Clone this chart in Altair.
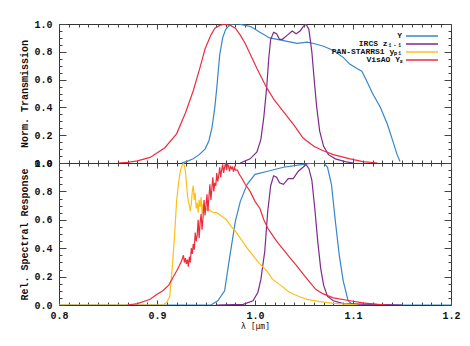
import altair as alt
import pandas as pd

# ---------------- data ----------------
names = ["Y", "IRCS", "PS1", "VisAO"]
labels = ["Y", "IRCS z\u2081.\u2081", "PAN-STARRS1 y\u209a\u2081", "VisAO Y\u209b"]
colors = ["#3587c8", "#7d2a8c", "#fdc016", "#ee2c3c"]

# top panel: normalized transmission
top_Y_lam = [0.925, 0.930, 0.937, 0.943, 0.949, 0.953, 0.956, 0.959, 0.961, 0.964, 0.967, 0.970,
             0.974, 0.978, 0.983, 0.990, 0.996, 1.005, 1.015, 1.029, 1.043, 1.053, 1.060, 1.070,
             1.080, 1.090, 1.097, 1.104, 1.109, 1.114, 1.120, 1.128, 1.135, 1.141, 1.145, 1.148]
top_Y_val = [0.0, 0.01, 0.03, 0.06, 0.10, 0.16, 0.25, 0.40, 0.54, 0.78, 0.90, 0.96,
             0.99, 1.0, 1.0, 0.99, 0.98, 0.94, 0.90, 0.88, 0.86, 0.87, 0.86, 0.84,
             0.81, 0.76, 0.71, 0.68, 0.66, 0.59, 0.50, 0.40, 0.28, 0.15, 0.06, 0.01]

top_IRCS_lam = [0.985, 0.995, 1.002, 1.006, 1.009, 1.012, 1.014, 1.016, 1.019, 1.022, 1.025, 1.028,
                1.033, 1.038, 1.042, 1.046, 1.049, 1.052, 1.055, 1.058, 1.061, 1.063, 1.066, 1.070,
                1.075, 1.082, 1.092, 1.100]
top_IRCS_val = [0.0, 0.03, 0.08, 0.17, 0.33, 0.55, 0.75, 0.89, 0.94, 0.93, 0.89, 0.89,
                0.92, 0.95, 0.93, 0.95, 0.98, 1.0, 0.96, 0.80, 0.55, 0.40, 0.23, 0.12,
                0.06, 0.03, 0.01, 0.0]

top_VisAO_lam = [0.860, 0.870, 0.880, 0.893, 0.908, 0.920, 0.929, 0.937, 0.944, 0.949, 0.955, 0.959,
                 0.964, 0.969, 0.975, 0.980, 0.985, 0.990, 0.996, 1.002, 1.012, 1.020, 1.029, 1.040,
                 1.049, 1.060, 1.069, 1.080, 1.097, 1.110, 1.125]
top_VisAO_val = [0.0, 0.005, 0.015, 0.04, 0.11, 0.21, 0.36, 0.52, 0.69, 0.82, 0.92, 0.97,
                 0.99, 1.0, 0.99, 0.97, 0.92, 0.86, 0.77, 0.68, 0.54, 0.45, 0.37, 0.27,
                 0.18, 0.12, 0.09, 0.06, 0.03, 0.01, 0.0]

# bottom panel: relative spectral response
bot_Y_lam = [0.80, 0.955, 0.962, 0.969, 0.974, 0.977, 0.980, 0.985, 0.992, 1.000, 1.012, 1.029,
             1.049, 1.060, 1.070, 1.074, 1.078, 1.082, 1.086, 1.090, 1.095, 1.100, 1.20]
bot_Y_val = [0.0, 0.0, 0.03, 0.10, 0.33, 0.46, 0.59, 0.73, 0.85, 0.92, 0.94, 0.97,
             0.99, 1.0, 1.0, 0.97, 0.85, 0.59, 0.35, 0.17, 0.03, 0.0, 0.0]

bot_IRCS_lam = [0.960, 0.988, 0.998, 1.003, 1.006, 1.010, 1.013, 1.016, 1.019, 1.022, 1.025, 1.029,
                1.034, 1.039, 1.044, 1.049, 1.052, 1.055, 1.058, 1.061, 1.064, 1.067, 1.070, 1.074,
                1.080, 1.090, 1.150]
bot_IRCS_val = [0.0, 0.005, 0.03, 0.09, 0.18, 0.38, 0.66, 0.84, 0.91, 0.90, 0.86, 0.85,
                0.89, 0.89, 0.94, 0.97, 0.99, 0.96, 0.88, 0.68, 0.45, 0.26, 0.14, 0.06,
                0.03, 0.01, 0.0]

bot_PS1_lam = [0.80, 0.906, 0.910, 0.913, 0.916, 0.918, 0.920, 0.922, 0.924, 0.926, 0.927, 0.928,
               0.929, 0.930, 0.931, 0.932, 0.933, 0.934, 0.935, 0.936, 0.937, 0.938, 0.939, 0.940,
               0.941, 0.942, 0.943, 0.944, 0.945, 0.946, 0.947, 0.948, 0.949, 0.950, 0.952, 0.955,
               0.958, 0.961, 0.965, 0.971, 0.976, 0.980, 0.986, 0.992, 1.000, 1.005, 1.012, 1.018,
               1.026, 1.035, 1.045, 1.053, 1.065, 1.080, 1.097, 1.105]
bot_PS1_val = [0.0, 0.0, 0.02, 0.06, 0.30, 0.50, 0.73, 0.86, 0.95, 0.99, 1.0, 0.98,
               0.94, 0.86, 0.78, 0.73, 0.70, 0.66, 0.71, 0.80, 0.84, 0.74, 0.79, 0.68,
               0.72, 0.65, 0.74, 0.69, 0.76, 0.64, 0.71, 0.66, 0.70, 0.67, 0.68, 0.66,
               0.65, 0.65, 0.63, 0.60, 0.55, 0.52, 0.46, 0.40, 0.33, 0.29, 0.24, 0.18,
               0.14, 0.09, 0.06, 0.04, 0.025, 0.012, 0.005, 0.0]

bot_VisAO_lam = [0.870, 0.880, 0.893, 0.900, 0.906, 0.912, 0.916, 0.920, 0.923, 0.925, 0.927, 0.928,
                 0.929, 0.930, 0.931, 0.932, 0.933, 0.934, 0.935, 0.936, 0.937, 0.938, 0.939, 0.940,
                 0.941, 0.942, 0.943, 0.944, 0.945, 0.946, 0.947, 0.948, 0.949, 0.950, 0.951, 0.952,
                 0.953, 0.954, 0.955, 0.956, 0.957, 0.958, 0.959, 0.960, 0.961, 0.962, 0.963, 0.964,
                 0.965, 0.966, 0.967, 0.968, 0.969, 0.970, 0.971, 0.972, 0.973, 0.974, 0.975, 0.976,
                 0.977, 0.978, 0.979, 0.980, 0.982, 0.984, 0.986, 0.990, 0.995, 1.000, 1.005, 1.009,
                 1.013, 1.018, 1.022, 1.029, 1.036, 1.042, 1.049, 1.056, 1.062, 1.069, 1.080, 1.097,
                 1.110, 1.125, 1.135]
bot_VisAO_val = [0.0, 0.01, 0.04, 0.075, 0.10, 0.14, 0.19, 0.24, 0.28, 0.31, 0.35, 0.30,
                 0.33, 0.29, 0.32, 0.27, 0.34, 0.30, 0.40, 0.36, 0.43, 0.39, 0.51, 0.45,
                 0.49, 0.60, 0.47, 0.58, 0.64, 0.53, 0.62, 0.74, 0.63, 0.70, 0.78, 0.66,
                 0.76, 0.85, 0.74, 0.82, 0.90, 0.80, 0.86, 0.84, 0.93, 0.87, 0.91, 0.97,
                 0.90, 0.95, 0.99, 0.93, 0.97, 1.0, 0.95, 0.99, 0.98, 0.94, 0.98, 0.96,
                 0.97, 0.94, 0.97, 0.95, 0.95, 0.92, 0.90, 0.85, 0.80, 0.73, 0.68, 0.60,
                 0.54, 0.49, 0.45, 0.39, 0.33, 0.28, 0.22, 0.16, 0.11, 0.08, 0.05, 0.03,
                 0.015, 0.005, 0.0]

x_major = [0.8, 0.9, 1.0, 1.1, 1.2]
x_minor = [round(0.8 + 0.01 * i, 2) for i in range(41) if i % 10 != 0]
y_major = [0.0, 0.2, 0.4, 0.6, 0.8, 1.0]
y_minor = [round(0.05 * i, 2) for i in range(21) if i % 4 != 0]

# ---------------- helpers ----------------
def long_df(parts):
    rows = []
    for order, (name, lam, val) in enumerate(parts):
        for l, v in zip(lam, val):
            rows.append({"lam": l, "val": v, "name": name, "order": order})
    return pd.DataFrame(rows)

MONO = "Liberation Mono"
xs = alt.Scale(domain=[0.8, 1.2], nice=False, zero=False)
ys = alt.Scale(domain=[0.0, 1.0], nice=False, zero=False)
cs = alt.Scale(domain=names, range=colors)
TICK = "#444444"


def ax(orient, values, size, labels=False, title=None, **kw):
    return alt.Axis(orient=orient, values=values, tickSize=size, offset=-size,
                    labels=labels, domain=False, grid=False, ticks=True,
                    tickColor=TICK, tickWidth=1, title=title,
                    labelFont=MONO, labelFontWeight="bold", labelFontSize=10,
                    labelColor="#111111", format=".1f", **kw)


def panel(parts, ytitle, show_x, height, legend=False):
    df = long_df(parts)
    lines = alt.Chart(df).mark_line(strokeWidth=1.2, clip=True).encode(
        x=alt.X("lam:Q", scale=xs, axis=None),
        y=alt.Y("val:Q", scale=ys, axis=None),
        color=alt.Color("name:N", scale=cs, legend=None),
        detail="order:N",
    )
    base = alt.Chart(df).mark_point(opacity=0, size=0)
    xt = "\u03bb [\u03bcm]" if show_x else None
    a1 = base.encode(
        x=alt.X("lam:Q", scale=xs, axis=ax("bottom", x_major, 5, labels=show_x, title=xt,
                                            labelPadding=5, titleFont="DejaVu Sans Mono",
                                            titleFontSize=8, titleFontWeight="normal",
                                            titlePadding=2, titleColor="#111111",
                                            labelFlush=False)),
        y=alt.Y("val:Q", scale=ys, axis=ax("left", y_major, 7, labels=True, title=ytitle,
                                           labelPadding=7, titleFont=MONO, titleFontSize=10,
                                           titleFontWeight="bold", titlePadding=4,
                                           titleColor="#111111", labelFlush=False)),
    )
    a2 = base.encode(x=alt.X("lam:Q", scale=xs, axis=ax("bottom", x_minor, 3)),
                     y=alt.Y("val:Q", scale=ys, axis=ax("left", y_minor, 3)))
    a3 = base.encode(x=alt.X("lam:Q", scale=xs, axis=ax("top", x_major, 5)),
                     y=alt.Y("val:Q", scale=ys, axis=ax("right", y_major, 7)))
    a4 = base.encode(x=alt.X("lam:Q", scale=xs, axis=ax("top", x_minor, 3)),
                     y=alt.Y("val:Q", scale=ys, axis=ax("right", y_minor, 3)))
    layers = [lines, a1, a2, a3, a4]
    if legend:
        ldf = pd.DataFrame({"name": names, "label": labels})
        ly = alt.Scale(type="point", domain=names, range=[12, 36], padding=0)
        txt = alt.Chart(ldf).mark_text(align="right", baseline="middle", font=MONO,
                                       fontWeight="bold", fontSize=8, color="#111111").encode(
            x=alt.value(343), y=alt.Y("name:N", scale=ly, axis=None), text="label:N")
        rl = alt.Chart(ldf).mark_rule(strokeWidth=1.5).encode(
            x=alt.value(347), x2=alt.value(379),
            y=alt.Y("name:N", scale=ly, axis=None),
            color=alt.Color("name:N", scale=cs, legend=None))
        layers += [txt, rl]
    ch = alt.layer(*layers).resolve_axis(x="independent", y="independent")
    if legend:
        ch = ch.resolve_scale(y="independent")
    return ch.properties(width=392, height=height)


top = panel([("Y", top_Y_lam, top_Y_val), ("IRCS", top_IRCS_lam, top_IRCS_val),
             ("VisAO", top_VisAO_lam, top_VisAO_val)],
            "Norm. Transmission", False, 139, legend=True)
bottom = panel([("Y", bot_Y_lam, bot_Y_val), ("IRCS", bot_IRCS_lam, bot_IRCS_val),
                ("PS1", bot_PS1_lam, bot_PS1_val), ("VisAO", bot_VisAO_lam, bot_VisAO_val)],
               "Rel. Spectral Response", True, 142)

chart = alt.vconcat(top, bottom, spacing=0, bounds="flush").properties(
    padding={"left": 11, "top": 10, "right": 0, "bottom": 5},
    background="white",
).configure_view(stroke="#333333", strokeWidth=1)

chart.save("out.html", embed_options={"renderer": "svg", "actions": False})
